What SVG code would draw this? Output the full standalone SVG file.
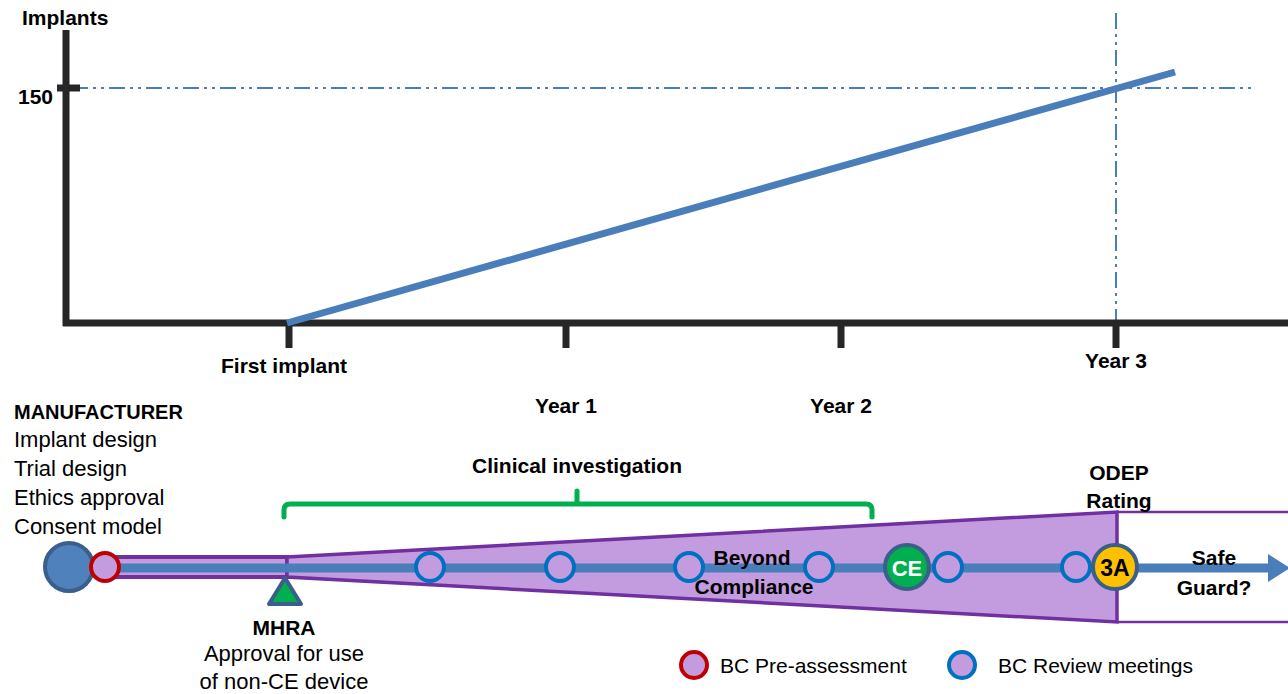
<svg xmlns="http://www.w3.org/2000/svg" width="1288" height="694" viewBox="0 0 1288 694">
<style>
text{font-family:"Liberation Sans",Arial,sans-serif;fill:#000}
.b{font-weight:bold;font-size:21px}
.r{font-size:22px}
.axis{stroke:#262626;stroke-width:7;fill:none}
.dd{stroke:#4A7EBB;stroke-width:2;fill:none;stroke-dasharray:16 5 3 5 3 5}
.rev{fill:#C39BDF;stroke:#0070C0;stroke-width:4}
.pre{fill:#C39BDF;stroke:#C00000;stroke-width:4}
</style>
<rect width="1288" height="694" fill="#fff"/>
<g id="chart">
<line class="dd" x1="72" y1="88" x2="1254" y2="88"/>
<line class="dd" x1="1116" y1="13" x2="1116" y2="320"/>
<line class="axis" x1="66" y1="30" x2="66" y2="326"/>
<line class="axis" x1="57" y1="88" x2="80" y2="88"/>
<line class="axis" x1="63" y1="323" x2="1288" y2="323"/>
<line class="axis" x1="289" y1="323" x2="289" y2="348"/>
<line class="axis" x1="566" y1="323" x2="566" y2="348"/>
<line class="axis" x1="841" y1="323" x2="841" y2="348"/>
<line class="axis" x1="1116" y1="323" x2="1116" y2="348"/>
<line x1="287" y1="323" x2="1175" y2="72" stroke="#4A7EBB" stroke-width="7"/>
<text class="b" x="22" y="25">Implants</text>
<text class="b" x="53" y="104" text-anchor="end">150</text>
<text class="b" x="284" y="373" text-anchor="middle">First implant</text>
<text class="b" x="1116" y="368" text-anchor="middle">Year 3</text>
<text class="b" x="566" y="413" text-anchor="middle">Year 1</text>
<text class="b" x="841" y="413" text-anchor="middle">Year 2</text>
</g>
<g id="manufacturer">
<text x="14" y="419" style="font-weight:bold;font-size:20px">MANUFACTURER</text>
<text class="r" x="14" y="447">Implant design</text>
<text class="r" x="14" y="476">Trial design</text>
<text class="r" x="14" y="505">Ethics approval</text>
<text class="r" x="14" y="534">Consent model</text>
</g>
<g id="band">
<line x1="1117" y1="512" x2="1288" y2="512" stroke="#7030A0" stroke-width="2.5"/>
<line x1="1117" y1="622" x2="1288" y2="622" stroke="#7030A0" stroke-width="2.5"/>
<rect x="110" y="557" width="177" height="20" fill="#C39BDF" stroke="#7030A0" stroke-width="4"/>
<polygon points="287,557 1117,512 1117,622 287,577" fill="#C39BDF" stroke="#7030A0" stroke-width="3.5" stroke-linejoin="miter"/>
</g>
<g id="connectors">
<line x1="100" y1="568" x2="1272" y2="568" stroke="#4A7EBB" stroke-width="9"/>
<polygon points="1268,554 1290,568 1268,582" fill="#4A7EBB"/>
<path d="M284,517 V510 Q284,504 290,504 H866 Q872,504 872,510 V517 M577,504 V491" fill="none" stroke="#00B050" stroke-width="5" stroke-linecap="round"/>
</g>
<g id="start"><circle cx="69" cy="567" r="24" fill="#4F81BD" stroke="#3A5F8A" stroke-width="4"/></g>
<g id="pre"><circle class="pre" cx="105" cy="567" r="14"/></g>
<g id="mhra">
<polygon points="285,578 269,604 301,604" fill="#00B050" stroke="#3A5F8A" stroke-width="4" stroke-linejoin="round"/>
<text class="b" x="284" y="635" text-anchor="middle">MHRA</text>
<text class="r" x="284" y="661" text-anchor="middle">Approval for use</text>
<text class="r" x="284" y="689" text-anchor="middle">of non-CE device</text>
</g>
<g id="reviews">
<circle class="rev" cx="430" cy="567" r="14"/>
<circle class="rev" cx="560" cy="567" r="14"/>
<circle class="rev" cx="689" cy="567" r="14"/>
<circle class="rev" cx="819" cy="567" r="14"/>
<circle class="rev" cx="948" cy="567" r="14"/>
<circle class="rev" cx="1076" cy="567" r="14"/>
</g>
<g id="ce">
<circle cx="907" cy="567" r="22" fill="#00B050" stroke="#3A5F8A" stroke-width="4"/>
<text x="907" y="576" text-anchor="middle" style="font-weight:bold;font-size:22px;fill:#fff">CE</text>
</g>
<g id="odep">
<circle cx="1115" cy="567" r="22" fill="#FFC000" stroke="#3A5F8A" stroke-width="4"/>
<text x="1115" y="576" text-anchor="middle" style="font-weight:bold;font-size:23px">3A</text>
<text class="b" x="1119" y="480" text-anchor="middle">ODEP</text>
<text class="b" x="1119" y="508" text-anchor="middle">Rating</text>
</g>
<g id="labels">
<text class="b" x="577" y="473" text-anchor="middle">Clinical investigation</text>
<text class="b" x="752" y="565" text-anchor="middle">Beyond</text>
<text class="b" x="754" y="594" text-anchor="middle">Compliance</text>
<text class="b" x="1214" y="565" text-anchor="middle">Safe</text>
<text class="b" x="1214" y="595" text-anchor="middle">Guard?</text>
</g>
<g id="legend">
<circle class="pre" cx="694" cy="665" r="13"/>
<text class="r" x="720" y="673" style="font-size:21px">BC Pre-assessment</text>
<circle class="rev" cx="962" cy="665" r="13"/>
<text class="r" x="998" y="673" style="font-size:21px">BC Review meetings</text>
</g>
</svg>
